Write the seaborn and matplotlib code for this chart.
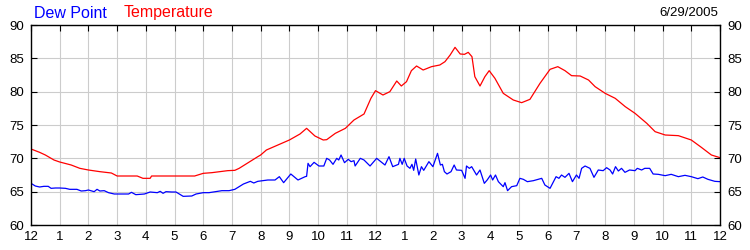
import matplotlib
matplotlib.use("Agg")
import matplotlib.pyplot as plt
import seaborn as sns
import pandas as pd

# ---- data ----
temp_hours = [0.0, 0.3, 0.5, 0.8, 1.0, 1.4, 1.7, 2.0, 2.4, 2.8, 3.0, 3.7, 3.9, 4.15, 4.2,
              5.0, 5.7, 6.0, 6.3, 6.85, 7.1, 7.25, 7.9, 8.0, 8.2, 8.6, 9.0, 9.37, 9.6,
              9.89, 10.18, 10.3, 10.6, 10.95, 11.25, 11.6, 11.84, 12.0, 12.26, 12.5,
              12.74, 12.9, 13.08, 13.25, 13.43, 13.66, 13.95, 14.24, 14.42, 14.6, 14.77,
              14.95, 15.1, 15.23, 15.36, 15.46, 15.64, 15.81, 15.96, 16.16, 16.45, 16.8,
              17.09, 17.38, 17.73, 18.08, 18.35, 18.6, 18.83, 19.13, 19.42, 19.65, 20.0,
              20.35, 20.7, 21.04, 21.45, 21.74, 22.09, 22.55, 23.0, 23.35, 23.7, 24.0]
temp_values = [71.4, 70.9, 70.5, 69.75, 69.45, 69.0, 68.5, 68.25, 68.0, 67.8, 67.35, 67.35,
               67.0, 67.0, 67.35, 67.35, 67.35, 67.75, 67.85, 68.15, 68.2, 68.5, 70.25,
               70.5, 71.25, 72.0, 72.75, 73.65, 74.5, 73.35, 72.75, 72.8, 73.75, 74.5,
               75.75, 76.65, 79.0, 80.15, 79.5, 80.0, 81.6, 80.85, 81.5, 83.15, 83.85,
               83.25, 83.75, 84.0, 84.5, 85.5, 86.65, 85.65, 85.6, 85.9, 85.25, 82.25,
               80.85, 82.25, 83.15, 82.0, 79.75, 78.75, 78.35, 78.85, 81.25, 83.35,
               83.75, 83.15, 82.4, 82.35, 81.75, 80.75, 79.75, 79.0, 77.75, 76.75,
               75.25, 74.0, 73.5, 73.4, 72.75, 71.65, 70.5, 70.1]

dew_hours = [0.0, 0.15, 0.3, 0.45, 0.6, 0.7, 0.85, 1.0, 1.2, 1.35, 1.6, 1.75, 1.9, 2.0,
             2.2, 2.3, 2.4, 2.55, 2.7, 2.9, 3.4, 3.5, 3.65, 3.8, 3.95, 4.15, 4.4, 4.5,
             4.6, 4.7, 4.9, 5.05, 5.3, 5.6, 5.75, 6.0, 6.2, 6.65, 6.9, 7.1, 7.4, 7.64,
             7.76, 7.9, 8.25, 8.5, 8.65, 8.8, 9.05, 9.3, 9.55, 9.6, 9.65, 9.72, 9.86,
             10.03, 10.2, 10.3, 10.4, 10.52, 10.65, 10.72, 10.8, 10.92, 11.05, 11.15,
             11.25, 11.29, 11.47, 11.6, 11.81, 12.04, 12.33, 12.47, 12.6, 12.8, 12.85,
             12.93, 13.0, 13.1, 13.2, 13.27, 13.33, 13.4, 13.51, 13.6, 13.68, 13.86,
             14.0, 14.16, 14.26, 14.33, 14.4, 14.49, 14.63, 14.74, 14.82, 15.0, 15.12,
             15.17, 15.27, 15.35, 15.52, 15.64, 15.79, 15.89, 16.01, 16.08, 16.18,
             16.28, 16.45, 16.51, 16.6, 16.74, 16.92, 17.03, 17.15, 17.29, 17.5, 17.79,
             17.9, 18.08, 18.29, 18.39, 18.48, 18.6, 18.74, 18.86, 19.0, 19.09, 19.18,
             19.3, 19.47, 19.61, 19.76, 19.93, 20.05, 20.17, 20.26, 20.36, 20.46, 20.57,
             20.69, 20.85, 21.04, 21.12, 21.27, 21.38, 21.55, 21.67, 21.85, 22.09, 22.3,
             22.55, 22.78, 23.0, 23.23, 23.4, 23.58, 23.82, 24.0]
dew_values = [66.25, 65.85, 65.7, 65.8, 65.8, 65.5, 65.55, 65.55, 65.5, 65.35, 65.35, 65.1,
              65.15, 65.25, 65.0, 65.35, 65.1, 65.15, 64.85, 64.65, 64.65, 64.9, 64.55,
              64.6, 64.65, 64.95, 64.85, 65.05, 64.75, 65.0, 64.95, 64.95, 64.3, 64.35,
              64.65, 64.85, 64.85, 65.15, 65.15, 65.35, 66.15, 66.55, 66.3, 66.55, 66.75,
              66.75, 67.25, 66.35, 67.65, 66.75, 67.25, 67.3, 69.25, 68.75, 69.4, 68.85,
              68.85, 70.0, 69.75, 69.1, 70.0, 69.75, 70.5, 69.35, 69.85, 69.5, 69.65,
              68.85, 70.0, 69.75, 68.85, 70.0, 69.0, 70.25, 68.75, 69.1, 70.0, 69.1,
              70.0, 68.85, 68.5, 69.1, 68.2, 69.9, 67.5, 68.75, 68.2, 69.5, 68.75,
              70.75, 69.0, 69.1, 68.0, 67.65, 68.0, 69.0, 68.25, 68.2, 67.0, 68.85,
              68.5, 68.75, 67.5, 68.25, 66.25, 66.75, 67.5, 66.75, 67.5, 66.5, 65.75,
              66.35, 65.15, 65.75, 65.9, 67.0, 66.85, 66.5, 66.65, 67.0, 66.0, 65.5,
              67.25, 67.0, 67.5, 67.15, 67.75, 66.5, 67.5, 67.0, 68.5, 68.85, 68.5,
              67.15, 68.25, 68.15, 68.6, 68.25, 67.65, 68.75, 68.1, 68.5, 67.9, 68.25,
              68.15, 68.5, 68.25, 68.5, 68.5, 67.65, 67.6, 67.4, 67.6, 67.25, 67.45,
              67.25, 66.95, 67.2, 66.85, 66.55, 66.5]

hour_labels = ["12", "1", "2", "3", "4", "5", "6", "7", "8", "9", "10", "11",
               "12", "1", "2", "3", "4", "5", "6", "7", "8", "9", "10", "11", "12"]
y_ticks = [60, 65, 70, 75, 80, 85, 90]
legend_names = ["Dew Point", "Temperature"]
date_label = "6/29/2005"

# ---- plot ----
sns.set_style("white")
plt.rcParams["font.family"] = ["Liberation Sans", "DejaVu Sans"]

fig = plt.figure(figsize=(7.5, 2.5), dpi=100)
ax = fig.add_axes([31 / 750, 1 - 225 / 250, 689 / 750, 200 / 250])

temp_df = pd.DataFrame({"hour": temp_hours, "value": temp_values})
dew_df = pd.DataFrame({"hour": dew_hours, "value": dew_values})

sns.lineplot(data=dew_df, x="hour", y="value", color="#0000ff", linewidth=0.9, ax=ax)
sns.lineplot(data=temp_df, x="hour", y="value", color="#ff0000", linewidth=0.9, ax=ax)

ax.set_xlim(0, 24)
ax.set_ylim(60, 90)
ax.set_xticks(range(25))
ax.set_xticklabels(hour_labels)
ax.set_yticks(y_ticks)
ax.set_xlabel("")
ax.set_ylabel("")
ax.grid(True, color="#cccccc", linewidth=0.8)
ax.set_axisbelow(True)
for s in ax.spines.values():
    s.set_color("black")
    s.set_linewidth(1.0)
ax.tick_params(axis="both", direction="in", length=4, width=0.8, colors="black",
               labelsize=9.5, top=True, pad=5)
ax.tick_params(axis="x", pad=4.5)

ax2 = ax.twinx()
ax2.set_ylim(60, 90)
ax2.set_yticks(y_ticks)
ax2.tick_params(axis="y", direction="in", length=4, width=0.8, colors="black",
                labelsize=9.5, pad=5)
for s in ax2.spines.values():
    s.set_visible(False)
ax2.grid(False)

fig.text(34 / 750, 1 - 13 / 250, legend_names[0], color="#0000ff", fontsize=11.5,
         va="center", ha="left")
fig.text(124 / 750, 1 - 13 / 250, legend_names[1], color="#ff0000", fontsize=11.5,
         va="center", ha="left")
fig.text(718 / 750, 1 - 13 / 250, date_label, color="black", fontsize=9.5,
         va="center", ha="right")

fig.savefig("out.png", dpi=100)
